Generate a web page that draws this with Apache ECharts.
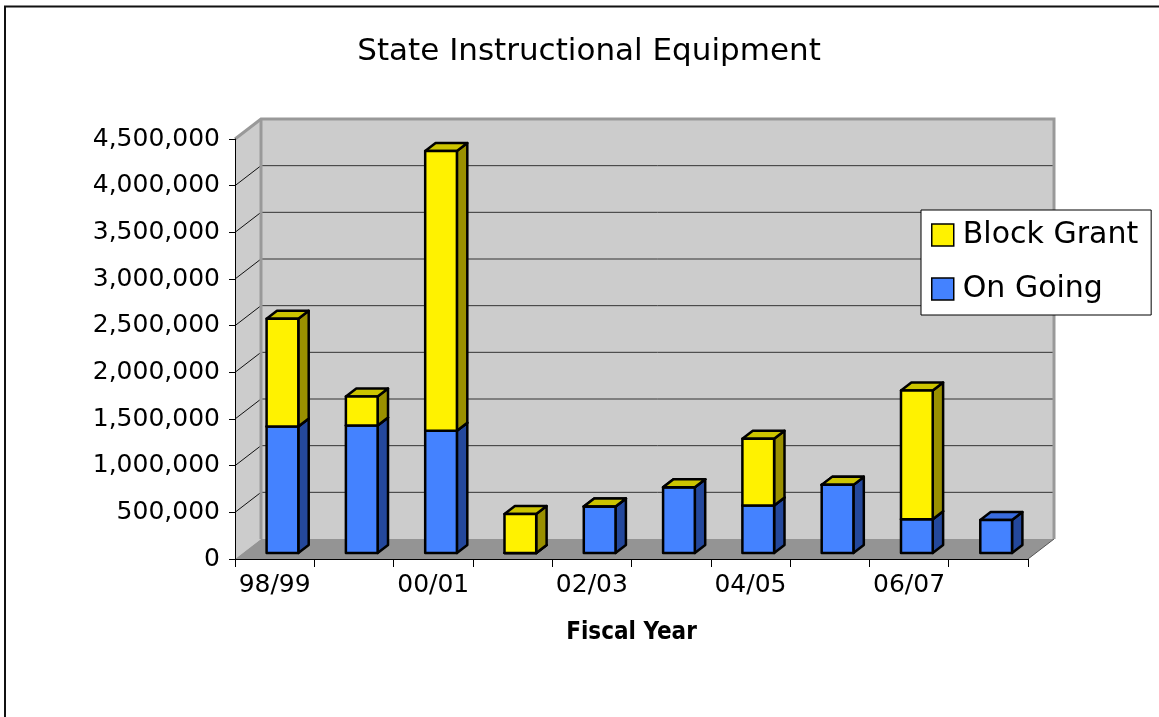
<!DOCTYPE html>
<html>
<head>
<meta charset="utf-8">
<script src="https://cdn.jsdelivr.net/npm/echarts@6/dist/echarts.min.js"></script>
<style>
  html, body { margin: 0; padding: 0; background: #fff; }
  #chart { width: 1159px; height: 717px; }
</style>
</head>
<body>
<div id="chart"></div>
<script>
// Fiscal years and annual funding (dollars)
const fiscalYears = ['98/99', '99/00', '00/01', '01/02', '02/03', '03/04', '04/05', '05/06', '06/07', '07/08'];
const onGoing    = [1355000, 1366000, 1309000, 0, 497000, 705000, 508000, 730000, 362000, 354000];
const blockGrant = [1156000, 311000, 2997000, 418000, 0, 0, 715000, 0, 1379000, null];

// Value axis range
const Y_MAX = 4500000;
const Y_STEP = 500000;

// Pseudo-3D depth of the plot box (px) and bar width as share of a category band
const DEPTH_X = 26;
const DEPTH_Y = 20;
const BAR_RATIO = 0.4;

const FONT = '"DejaVu Sans", "Noto Sans", sans-serif';

const COLORS = {
  'On Going':    { front: '#4482FF', side: '#24489C', top: '#3A6CDE' },
  'Block Grant': { front: '#FFF200', side: '#9A9000', top: '#CCC400' }
};

// Walls, floor and grid lines of the 3D box
function renderWalls(params, api) {
  const cs = params.coordSys;
  const xL = cs.x, xR = cs.x + cs.width;
  const y0 = api.coord([0, 0])[1];
  const yTop = api.coord([0, Y_MAX])[1];
  const dx = DEPTH_X, dy = -DEPTH_Y;
  const children = [
    { type: 'polygon', shape: { points: [[xL, y0], [xL + dx, y0 + dy], [xL + dx, yTop + dy], [xL, yTop]] },
      style: { fill: '#CCCCCC' } },
    { type: 'rect', shape: { x: xL + dx, y: yTop + dy, width: xR - xL, height: y0 - yTop },
      style: { fill: '#CCCCCC' } },
    { type: 'polygon', shape: { points: [[xL, y0], [xR, y0], [xR + dx, y0 + dy], [xL + dx, y0 + dy]] },
      style: { fill: '#949494' } },
    { type: 'line', shape: { x1: xR, y1: y0, x2: xR + dx, y2: y0 + dy },
      style: { stroke: '#555', lineWidth: 1 } }
  ];
  for (let v = Y_STEP; v < Y_MAX; v += Y_STEP) {
    const y = api.coord([0, v])[1];
    children.push({ type: 'line', shape: { x1: xL + dx, y1: y + dy, x2: xR + dx, y2: y + dy },
      style: { stroke: '#333', lineWidth: 1 } });
    children.push({ type: 'line', shape: { x1: xL, y1: y, x2: xL + dx, y2: y + dy },
      style: { stroke: '#111', lineWidth: 1 } });
  }
  children.push({ type: 'polyline',
    shape: { points: [[xL, yTop], [xL + dx, yTop + dy], [xR + dx, yTop + dy], [xR + dx, y0 + dy]] },
    style: { stroke: '#999999', lineWidth: 3, fill: null } });
  children.push({ type: 'line', shape: { x1: xL + dx, y1: yTop + dy, x2: xL + dx, y2: y0 + dy },
    style: { stroke: '#999999', lineWidth: 3 } });
  return { type: 'group', children };
}

// One stacked segment drawn as a box: side face, top face, front face
function boxRenderer(name) {
  const c = COLORS[name];
  return function (params, api) {
    const i = api.value(0);
    const lo = api.coord([i, api.value(1)]);
    const hi = api.coord([i, api.value(2)]);
    const w = api.size([1, 0])[0] * BAR_RATIO;
    const fx = DEPTH_X * 0.3, fy = -DEPTH_Y * 0.3;
    const sx = DEPTH_X * 0.4, sy = -DEPTH_Y * 0.4;
    const x0 = lo[0] - w / 2 + fx, x1 = x0 + w;
    const yb = lo[1] + fy, yt = hi[1] + fy;
    const edge = { stroke: '#000', lineWidth: 2.5, lineJoin: 'round' };
    return {
      type: 'group',
      children: [
        { type: 'polygon', shape: { points: [[x1, yb], [x1 + sx, yb + sy], [x1 + sx, yt + sy], [x1, yt]] },
          style: Object.assign({ fill: c.side }, edge) },
        { type: 'polygon', shape: { points: [[x0, yt], [x1, yt], [x1 + sx, yt + sy], [x0 + sx, yt + sy]] },
          style: Object.assign({ fill: c.top }, edge) },
        { type: 'rect', shape: { x: x0, y: yt, width: w, height: yb - yt },
          style: Object.assign({ fill: c.front }, edge) }
      ]
    };
  };
}

const onGoingData = fiscalYears.map((_, i) => [i, 0, onGoing[i]]);
const blockGrantData = [];
fiscalYears.forEach((_, i) => {
  if (blockGrant[i] != null) blockGrantData.push([i, onGoing[i], onGoing[i] + blockGrant[i]]);
});

const chart = echarts.init(document.getElementById('chart'), null, { renderer: 'canvas' });
chart.setOption({
  animation: false,
  backgroundColor: '#fff',
  title: {
    text: 'State Instructional Equipment',
    left: 584,
    top: 31,
    textAlign: 'center',
    textStyle: { fontFamily: FONT, fontSize: 31, fontWeight: 'normal', color: '#000' }
  },
  legend: {
    data: ['Block Grant', 'On Going'],
    orient: 'vertical',
    left: 921,
    top: 210,
    padding: [10, 13, 11, 10],
    itemGap: 24,
    itemWidth: 22,
    itemHeight: 22,
    icon: 'rect',
    backgroundColor: '#fff',
    borderColor: '#000',
    borderWidth: 1,
    itemStyle: { borderColor: '#000', borderWidth: 1.5 },
    textStyle: { fontFamily: FONT, fontSize: 30, color: '#000', padding: [0, 0, 0, 4] }
  },
  grid: { left: 235, top: 139, right: 131, bottom: 158 },
  xAxis: {
    type: 'category',
    data: fiscalYears,
    z: 10,
    axisLine: { lineStyle: { color: '#000', width: 1 } },
    axisTick: { show: true, interval: 0, length: 8, lineStyle: { color: '#000' } },
    axisLabel: { interval: 1, fontFamily: FONT, fontSize: 25, color: '#000', margin: 14 },
    name: 'Fiscal Year',
    nameLocation: 'middle',
    nameGap: 62,
    nameTextStyle: { fontFamily: '"DejaVu Sans Condensed", ' + FONT, fontSize: 24, fontWeight: 'bold', color: '#000' }
  },
  yAxis: {
    type: 'value',
    min: 0,
    max: Y_MAX,
    interval: Y_STEP,
    z: 10,
    axisLine: { show: true, lineStyle: { color: '#000', width: 1 } },
    axisTick: { show: true, length: 6, lineStyle: { color: '#000' } },
    splitLine: { show: false },
    axisLabel: {
      fontFamily: FONT, fontSize: 25, color: '#000', margin: 15,
      formatter: v => v.toLocaleString('en-US')
    }
  },
  graphic: [{
    type: 'rect', silent: true, z: 100,
    shape: { x: 5, y: 6.5, width: 1300, height: 1000 },
    style: { fill: null, stroke: '#111', lineWidth: 2 }
  }],
  series: [
    {
      name: 'walls', type: 'custom', coordinateSystem: 'cartesian2d', z: 1, clip: false, silent: true,
      data: [[0, 0]], encode: { x: 0, y: 1 }, renderItem: renderWalls
    },
    {
      name: 'On Going', type: 'custom', coordinateSystem: 'cartesian2d', z: 2, clip: false,
      itemStyle: { color: COLORS['On Going'].front },
      data: onGoingData, encode: { x: 0, y: [1, 2] }, renderItem: boxRenderer('On Going')
    },
    {
      name: 'Block Grant', type: 'custom', coordinateSystem: 'cartesian2d', z: 3, clip: false,
      itemStyle: { color: COLORS['Block Grant'].front },
      data: blockGrantData, encode: { x: 0, y: [1, 2] }, renderItem: boxRenderer('Block Grant')
    }
  ]
});
</script>
</body>
</html>
